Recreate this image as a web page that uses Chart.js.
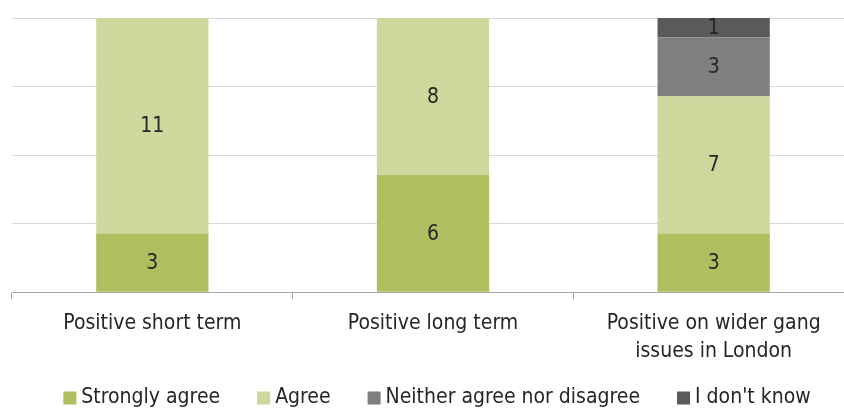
<!DOCTYPE html>
<html>
<head>
<meta charset="utf-8">
<script src="https://cdn.jsdelivr.net/npm/chart.js@4.4.0/dist/chart.umd.min.js"></script>
<style>
  html, body { margin: 0; padding: 0; background: #fff; overflow: hidden; }
  #wrap { width: 854px; height: 410px; position: relative; }
</style>
</head>
<body>
<div id="wrap"><canvas id="chart"></canvas></div>
<script>
// categories and series, counts
const categories = ["Positive short term", "Positive long term", ["Positive on wider gang", "issues in London"]];
const stronglyAgree = [3, 6, 3];
const agree = [11, 8, 7];
const neither = [null, null, 3];
const dontKnow = [null, null, 1];

const fontFamily = "'DejaVu Sans Condensed', 'Liberation Sans Narrow', sans-serif";
const textColor = '#262626';

// draw the value in the middle of each bar segment
const segmentLabels = {
  id: 'segmentLabels',
  afterDatasetsDraw(chart) {
    const ctx = chart.ctx;
    ctx.save();
    ctx.font = "21px " + fontFamily;
    ctx.fillStyle = textColor;
    ctx.textAlign = 'center';
    ctx.textBaseline = 'middle';
    chart.data.datasets.forEach((ds, i) => {
      const meta = chart.getDatasetMeta(i);
      meta.data.forEach((bar, j) => {
        const v = ds.data[j];
        if (v == null) return;
        const p = bar.getProps(['x', 'y', 'base'], true);
        ctx.fillText(String(v), p.x, (p.y + p.base) / 2 + 1);
      });
    });
    ctx.restore();
  }
};

// legend drawn by hand so box/text spacing is tight like the original
const bottomLegend = {
  id: 'bottomLegend',
  afterDraw(chart) {
    const ctx = chart.ctx;
    const ds = chart.data.datasets;
    ctx.save();
    ctx.font = "21px " + fontFamily;
    const box = 13, gapText = 5, gapItem = 37;
    const widths = ds.map(d => box + gapText + ctx.measureText(d.label).width);
    const total = widths.reduce((a, b) => a + b, 0) + gapItem * (ds.length - 1);
    let x = 437 - total / 2;
    const cy = 398;
    ds.forEach((d, i) => {
      ctx.fillStyle = d.backgroundColor;
      ctx.fillRect(x, cy - box / 2, box, box);
      ctx.fillStyle = textColor;
      ctx.textAlign = 'left';
      ctx.textBaseline = 'middle';
      ctx.fillText(d.label, x + box + gapText, cy);
      x += widths[i] + gapItem;
    });
    ctx.restore();
  }
};

new Chart(document.getElementById('chart'), {
  type: 'bar',
  data: {
    labels: categories,
    datasets: [
      { label: 'Strongly agree', data: stronglyAgree, backgroundColor: '#adbf5e' },
      { label: 'Agree', data: agree, backgroundColor: '#cdd89c' },
      { label: 'Neither agree nor disagree', data: neither, backgroundColor: '#7f7f7f' },
      { label: "I don't know", data: dontKnow, backgroundColor: '#5a5a5a' }
    ]
  },
  options: {
    responsive: true,
    maintainAspectRatio: false,
    animation: false,
    layout: { padding: { left: 12, right: 0, top: 18, bottom: 34 } },
    datasets: { bar: { barPercentage: 0.4, categoryPercentage: 1 } },
    scales: {
      x: {
        stacked: true,
        grid: { drawOnChartArea: false, drawTicks: true, tickLength: 7, color: '#a6a6a6' },
        border: { color: '#a6a6a6' },
        ticks: { color: textColor, font: { family: fontFamily, size: 21, lineHeight: 1.35 }, padding: 10, maxRotation: 0 }
      },
      y: {
        stacked: true,
        min: 0,
        max: 14,
        ticks: { display: false, stepSize: 3.5 },
        grid: { color: '#d9d9d9', drawTicks: false },
        border: { display: false }
      }
    },
    plugins: {
      legend: { display: false },
      tooltip: { enabled: false }
    }
  },
  plugins: [segmentLabels, bottomLegend]
});
</script>
</body>
</html>
